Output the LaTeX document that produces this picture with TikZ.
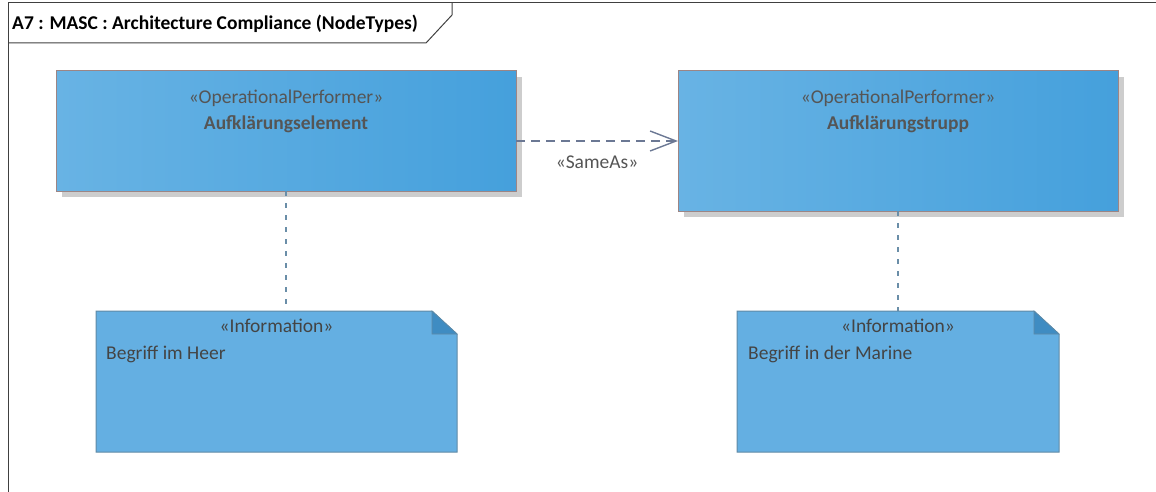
\documentclass[tikz,border=0pt]{standalone}
\usepackage{fontspec}
\setmainfont{Carlito}
\usetikzlibrary{arrows.meta}
\definecolor{boxL}{HTML}{68B3E4}
\definecolor{boxR}{HTML}{45A0DC}
\definecolor{boxBorder}{HTML}{9C8585}
\definecolor{noteFill}{HTML}{64AFE2}
\definecolor{noteBorder}{HTML}{5F8AA6}
\definecolor{foldFill}{HTML}{3F8CC2}
\definecolor{txt}{HTML}{444444}
\definecolor{stereo}{HTML}{555555}
\definecolor{conn}{HTML}{6B7894}
\definecolor{dotline}{HTML}{6A8EA8}
\definecolor{shadowc}{HTML}{CDCDCD}
\tikzset{
  perf/.style={draw=boxBorder, line width=1pt, left color=boxL, right color=boxR},
  shadowbox/.style={fill=shadowc, draw=none},
  note/.style={fill=noteFill, draw=noteBorder, line width=1pt},
  fold/.style={fill=foldFill, draw=noteBorder, line width=0.6pt},
  stereotxt/.style={font=\fontsize{19.5}{23}\selectfont, text=stereo, inner sep=0pt},
  nametxt/.style={font=\fontsize{19.5}{23}\selectfont\bfseries, text=stereo, inner sep=0pt},
  notetxt/.style={font=\fontsize{19.5}{23}\selectfont, text=txt, inner sep=0pt},
  sameas/.style={draw=conn, line width=1.2pt, dash pattern=on 9pt off 6pt, -{Straight Barb[length=26pt, width=20pt, line width=1.4pt]}},
  trace/.style={draw=dotline, line width=1.1pt, dash pattern=on 5pt off 7pt},
  frameline/.style={draw=black!75, line width=1pt}
}
\begin{document}
\begin{tikzpicture}[x=1pt, y=-1pt]
\useasboundingbox (0,0) rectangle (1156,492);
% frame
\draw[frameline] (8,492) -- (8,3) -- (1160,3);
\draw[frameline] (452,3) -- (452,15) -- (426,43) -- (8,43);
\node[anchor=base west, font=\fontsize{19.5}{23}\selectfont\bfseries, text=black, inner sep=0pt] (title) at (12,30) {A7 : MASC : Architecture Compliance (NodeTypes)};
% shadows
\fill[shadowbox] (62,77) rectangle (522,197);
\fill[shadowbox] (684,77) rectangle (1124,217);
% performer boxes
\draw[perf] (56,71) rectangle (516,191);
\draw[perf] (678,71) rectangle (1118,211);
\node[stereotxt, anchor=base] (s1) at (286,104) {«OperationalPerformer»};
\node[nametxt, anchor=base] (n1) at (286,129) {Aufklärungselement};
\node[stereotxt, anchor=base] (s2) at (898,104) {«OperationalPerformer»};
\node[nametxt, anchor=base] (n2) at (898,129) {Aufklärungstrupp};
\coordinate (b1R) at (516,141);
\coordinate (b2L) at (678,141);
\coordinate (b1B) at (286,191);
\coordinate (b2B) at (898,211);
% notes
\draw[note] (96,311) -- (432,311) -- (457,334) -- (457,452) -- (96,452) -- cycle;
\draw[fold] (432,311) -- (457,334) -- (432,334) -- cycle;
\draw[note] (737,311) -- (1034,311) -- (1059,334) -- (1059,452) -- (737,452) -- cycle;
\draw[fold] (1034,311) -- (1059,334) -- (1034,334) -- cycle;
\coordinate (n1T) at (286,311);
\coordinate (n2T) at (898,311);
\node[notetxt, anchor=base] (i1) at (276.5,332) {«Information»};
\node[notetxt, anchor=base west] (t1) at (106,359) {Begriff im Heer};
\node[notetxt, anchor=base] (i2) at (898,332) {«Information»};
\node[notetxt, anchor=base west] (t2) at (748,359) {Begriff in der Marine};
% connectors
\draw[sameas] (b1R) -- (b2L);
\node[stereotxt, anchor=base] (lbl) at (597,168) {«SameAs»};
\draw[trace] (b1B) -- (n1T);
\draw[trace] (b2B) -- (n2T);
\end{tikzpicture}
\end{document}
